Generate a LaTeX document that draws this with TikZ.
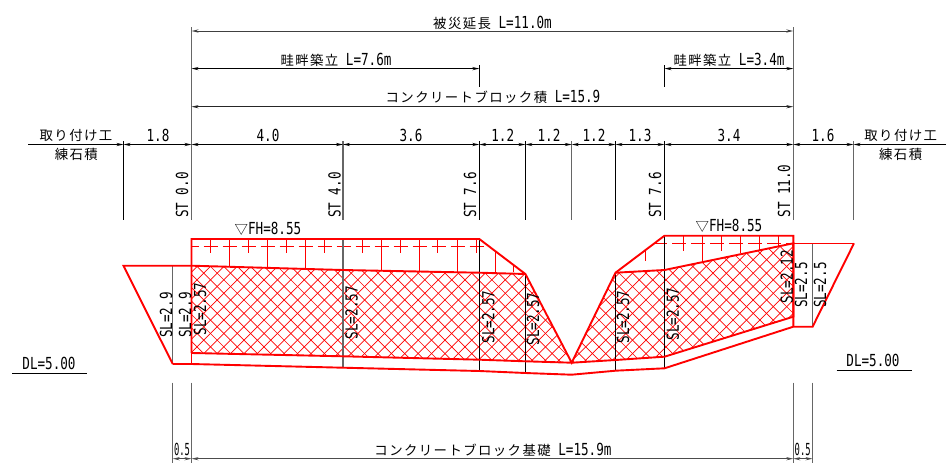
\documentclass[tikz,border=0pt]{standalone}
\usepackage{fontspec}
\usetikzlibrary{arrows.meta}
\newfontfamily\jpf[LetterSpace=10.5]{Noto Sans CJK JP}
\newfontfamily\latf[FakeStretch=0.76]{DejaVu Sans Mono}
\newcommand{\jp}[1]{{\fontsize{13.4}{15}\jpf #1}}
\newcommand{\lt}[1]{{\fontsize{16.6}{16}\latf #1}}
\tikzset{
  ext/.style={line width=1pt,black},
  extg/.style={line width=1.3pt,black!60},
  dim/.style={line width=1pt,black,{Stealth[length=7pt,width=3.2pt]}-{Stealth[length=7pt,width=3.2pt]}},
  stub/.style={line width=1pt,black,-{Stealth[length=7pt,width=3.2pt]}},
  lab/.style={inner sep=0pt,outer sep=0pt,anchor=center},
  vlab/.style={lab,rotate=90},
  redl/.style={red,line width=1.9pt,line join=miter},
  tick/.style={red,line width=1pt},
  hat/.style={red,line width=0.7pt},
}
\begin{document}
\begin{tikzpicture}[x=1pt,y=-1pt]
\useasboundingbox (0,0) rectangle (948,466);
% station coordinates
\coordinate (a) at (123.5,0);
\coordinate (b) at (172.7,0);
\coordinate (c) at (191.5,0);
\coordinate (d) at (343,0);
\coordinate (e) at (479.3,0);
\coordinate (f) at (525.4,0);
\coordinate (g) at (571.7,0);
\coordinate (h) at (615.5,0);
\coordinate (i) at (664.5,0);
\coordinate (j) at (793.3,0);
\coordinate (k) at (812.6,0);
\coordinate (l) at (853.5,0);
% section outline points
\coordinate (TL) at (123.5,265.7);
\coordinate (BL) at (172.7,364);
\coordinate (C0) at (191.5,239);
\coordinate (C1) at (479.3,239);
\coordinate (C2) at (525.4,274);
\coordinate (H0) at (191.5,265.7);
\coordinate (H1) at (343,270);
\coordinate (H2) at (479.3,272.7);
\coordinate (V)  at (571.7,362.7);
\coordinate (H3) at (615.5,272.7);
\coordinate (H4) at (664.5,270);
\coordinate (H5) at (793.3,243.3);
\coordinate (H6) at (793.3,316.7);
\coordinate (H7) at (664.5,356.7);
\coordinate (H8) at (615.5,360);
\coordinate (H9) at (525.4,361.3);
\coordinate (H10) at (479.3,359.7);
\coordinate (H11) at (343,356.3);
\coordinate (H12) at (191.5,353);
\coordinate (D0) at (664.5,235.7);
\coordinate (D1) at (793.3,235.7);
\coordinate (B0) at (191.5,364);
\coordinate (B1) at (343,367.7);
\coordinate (B2) at (479.3,371);
\coordinate (B3) at (525.4,373);
\coordinate (B4) at (571.7,374.7);
\coordinate (B5) at (615.5,370.7);
\coordinate (B6) at (664.5,368.3);
\coordinate (B7) at (793.3,326.7);
\coordinate (B8) at (812.6,326.7);
\coordinate (TR) at (854,243.3);
% hatch
\begin{scope}
\clip (H0)--(H1)--(H2)--(C2)--(V)--(H3)--(H4)--(H5)--(H6)--(H7)--(H8)--(V)--(H9)--(H10)--(H11)--(H12)--cycle;
\foreach \n in {0,...,60}{
  \draw[hat] ({191.7+\n*13.4-130},375) -- ++(130,-130);
  \draw[hat] ({185+\n*13.4-130},245) -- ++(130,130);
}
\end{scope}
% ticks of the fill
\foreach \x in {210.7,248.2,286,324.2,362.3,400,437.8,476}{\draw[tick] (\x,239) -- (\x,253);}
\foreach \x/\y in {229.5/266.5,267.5/267.2,305.5/268,381.5/271,419.3/271.5,457/272.3}{\draw[tick] (\x,239) -- (\x,\y);}
\draw[tick] (495,251) -- (495,273);
\draw[tick] (513.5,265.3) -- (513.5,272);
\draw[tick] (645.3,250.5) -- (645.3,260.7);
\foreach \x in {683,721,759}{\draw[tick] (\x,235.7) -- (\x,250.7);}
\draw[tick] (702.3,235.7) -- (702.3,261.7);
\draw[tick] (740.3,235.7) -- (740.3,253);
\draw[tick] (778,235.7) -- (778,246.5);
% dashed FH lines
\draw[red,line width=1.4pt,dash pattern=on 14pt off 5pt,dash phase=6.8pt] (191.5,246.3) -- (489,246.3);
\draw[red,line width=1.4pt,dash pattern=on 14pt off 5pt,dash phase=2pt] (655,243.3) -- (793.3,243.3);
% black section lines
\draw[extg] (b|-TL) -- (BL);
\draw[extg] (d|-C0) -- (B1);
\draw[ext] (C1) -- (B2);
\draw[ext] (C2) -- (B3);
\draw[ext] (H3) -- (B5);
\draw[ext] (D0) -- (B6);
\draw[extg] (k|-TR) -- (B8);
% red outline
\draw[redl] (H0)--(H1)--(H2)--(C2)--(V)--(H3)--(H4)--(H5)--(H6)--(H7)--(H8)--(V)--(H9)--(H10)--(H11)--(H12);
\draw[redl] (BL)--(TL)--(H0);
\draw[redl] (H12)--(C0)--(C1)--(C2);
\draw[redl] (H0)--(B0);
\draw[redl] (H3)--(D0)--(D1)--(B7);
\draw[redl] (BL)--(B0)--(B1)--(B2)--(B3)--(B4)--(B5)--(B6)--(B7)--(B8)--(TR);
\draw[red,line width=1.3pt] (H5)--(TR);
% extension lines
\draw[extg] (c|-0,27) -- (c|-0,220);
\draw[extg] (j|-0,27) -- (j|-0,220);
\foreach \p in {a,e,f,h,i}{\draw[ext] (\p|-0,141) -- (\p|-0,220);}
\foreach \p in {d,g,l}{\draw[extg] (\p|-0,141) -- (\p|-0,220);}
\draw[ext] (e|-0,65) -- (e|-0,87);
\draw[ext] (i|-0,65) -- (i|-0,87);
% dimension lines
\coordinate (sl) at (28,144.5);
\coordinate (sr) at (946,144.5);
\draw[dim,black!75] (c|-0,31) -- (j|-0,31);
\draw[dim] (c|-0,68.6) -- (e|-0,68.6);
\draw[dim] (i|-0,68.6) -- (j|-0,68.6);
\draw[dim,black!85] (c|-0,106.7) -- (j|-0,106.7);
\draw[stub] (sl) -- (a|-sl);
\draw[stub] (sr) -- (l|-sr);
\foreach \p/\q in {a/c,c/d,d/e,e/f,f/g,g/h,h/i,i/j,j/l}{\draw[dim] (\p|-sl) -- (\q|-sl);}
% bottom
\foreach \p in {b,c,j,k}{\draw[extg] (\p|-0,382.7) -- (\p|-0,462.7);}
\draw[dim,black!70] (b|-0,458.7) -- (c|-0,458.7);
\draw[dim,black!70] (c|-0,458.7) -- (j|-0,458.7);
\draw[dim,black!70] (j|-0,458.7) -- (k|-0,458.7);
% DL
\coordinate (dl1) at (12,373.7); \coordinate (dl2) at (87,373.7);
\coordinate (dr1) at (836.7,370.3); \coordinate (dr2) at (911.7,370.3);
\draw[ext] (dl1) -- (dl2);
\draw[ext] (dr1) -- (dr2);
% labels
\node[lab] (t1) at (492.5,23) {\jp{被災延長}\lt{ L=11.0m}};
\node[lab] (t2) at (336,60) {\jp{畦畔築立}\lt{ L=7.6m}};
\node[lab] (t3) at (729,60) {\jp{畦畔築立}\lt{ L=3.4m}};
\node[lab] (t4) at (493,97) {\jp{コンクリートブロック積}\lt{ L=15.9}};
\node[lab] (t5) at (493,450) {\jp{コンクリートブロック基礎}\lt{ L=15.9m}};
\node[lab] (n1) at (158,135) {\lt{1.8}};
\node[lab] (n2) at (268,135) {\lt{4.0}};
\node[lab] (n3) at (411,135) {\lt{3.6}};
\node[lab] (n4) at (502.7,135) {\lt{1.2}};
\node[lab] (n5) at (549,135) {\lt{1.2}};
\node[lab] (n6) at (594,135) {\lt{1.2}};
\node[lab] (n7) at (640,135) {\lt{1.3}};
\node[lab] (n8) at (729,135) {\lt{3.4}};
\node[lab] (n9) at (823,135) {\lt{1.6}};
\node[lab] (w1) at (76,135) {\jp{取り付け工}};
\node[lab] (w2) at (76.3,154) {\jp{練石積}};
\node[lab] (w3) at (900.7,135) {\jp{取り付け工}};
\node[lab] (w4) at (900.7,154) {\jp{練石積}};
\node[vlab] (s1) at (182,195) {\lt{ST 0.0}};
\node[vlab] (s2) at (334.5,195) {\lt{ST 4.0}};
\node[vlab] (s3) at (470,195) {\lt{ST 7.6}};
\node[vlab] (s4) at (655,195) {\lt{ST 7.6}};
\node[vlab] (s5) at (784,191) {\lt{ST 11.0}};
\node[lab] (f1) at (268,229) {\jp{▽}\lt{FH=8.55}};
\node[lab] (f2) at (729,226) {\jp{▽}\lt{FH=8.55}};
\node[vlab] (q1) at (166,315) {\lt{SL=2.9}};
\node[vlab] (q2) at (185,315) {\lt{SL=2.9}};
\node[vlab] (q3) at (200,309) {\lt{SL=2.57}};
\node[vlab] (q4) at (351.7,312.7) {\lt{SL=2.57}};
\node[vlab] (q5) at (488.3,317) {\lt{SL=2.57}};
\node[vlab] (q6) at (533,319) {\lt{SL=2.57}};
\node[vlab] (q7) at (623,317) {\lt{SL=2.57}};
\node[vlab] (q8) at (672.7,314) {\lt{SL=2.57}};
\node[vlab] (q9) at (786.7,276.7) {\lt{SL=2.12}};
\node[vlab] (q10) at (801,285) {\lt{SL=2.5}};
\node[vlab] (q11) at (820,285) {\lt{SL=2.5}};
\node[lab] (dl) at (49,363) {\lt{DL=5.00}};
\node[lab] (dr) at (873,360.7) {\lt{DL=5.00}};
\node[lab,xscale=0.7] (z1) at (182,449) {\lt{0.5}};
\node[lab,xscale=0.7] (z2) at (802.7,449) {\lt{0.5}};
\end{tikzpicture}
\end{document}
